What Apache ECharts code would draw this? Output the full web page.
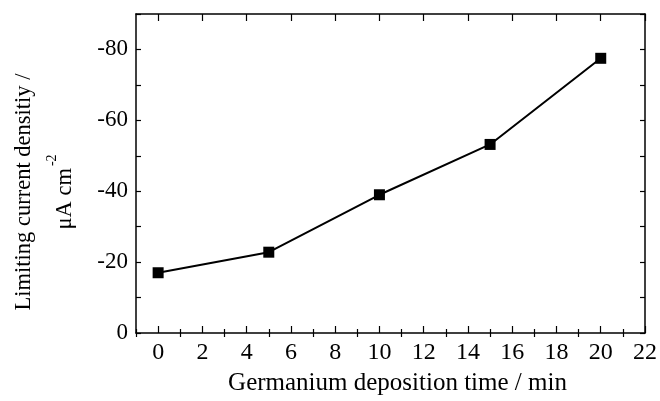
<!DOCTYPE html>
<html><head><meta charset="utf-8">
<script src="https://cdn.jsdelivr.net/npm/echarts@6/dist/echarts.min.js"></script>
<style>html,body{margin:0;padding:0;background:#fff}#c{width:660px;height:401px}</style>
</head><body><div id="c"></div>
<script>
const times = [0, 5, 10, 15, 20];
const density = [-17.0, -22.8, -39.0, -53.2, -77.5];
const xMajor = [0, 2, 4, 6, 8, 10, 12, 14, 16, 18, 20, 22];
const xMinor = [-1, 1, 3, 5, 7, 9, 11, 13, 15, 17, 19, 21];
const yLabels = [0, -20, -40, -60, -80];
const FONT = 'Liberation Serif';

const chart = echarts.init(document.getElementById('c'));
const lineStyle = {color: '#000', width: 1.5};
function xAx(pos, opts) {
  return Object.assign({
    type: 'value', position: pos, min: -1, max: 22, interval: 1,
    axisLine: {show: true, onZero: false, lineStyle},
    splitLine: {show: false},
    axisLabel: {show: false},
    axisTick: {show: true, inside: true, length: 7, lineStyle: {color: '#000', width: 1.2}, customValues: xMajor}
  }, opts);
}
function yAx(pos, opts) {
  return Object.assign({
    type: 'value', position: pos, min: -90, max: 0, interval: 10, inverse: true,
    axisLine: {show: true, onZero: false, lineStyle},
    splitLine: {show: false},
    axisLabel: {show: false},
    axisTick: {show: true, inside: true, length: 5, lineStyle: {color: '#000', width: 1.2}}
  }, opts);
}
chart.setOption({
  animation: false,
  backgroundColor: '#fff',
  grid: {left: 136, right: 12, top: 14, bottom: 68},
  xAxis: [
    xAx('bottom', {
      name: 'Germanium deposition time / min', nameLocation: 'middle', nameGap: 38,
      nameTextStyle: {fontFamily: FONT, fontSize: 25, color: '#000', padding: [0, 0, 0, 14]},
      axisLabel: {show: true, customValues: xMajor, fontFamily: FONT, fontSize: 24, color: '#000', margin: 8}
    }),
    xAx('bottom', {axisLine: {show: false}, axisTick: {show: true, inside: true, length: 4, lineStyle: {color: '#000', width: 1.2}, customValues: xMinor}}),
    xAx('top', {}),
    xAx('top', {axisLine: {show: false}, axisTick: {show: true, inside: true, length: 4, lineStyle: {color: '#000', width: 1.2}, customValues: xMinor}})
  ],
  yAxis: [
    yAx('left', {axisLabel: {show: true, customValues: yLabels, fontFamily: FONT, fontSize: 23, color: '#000', margin: 8}}),
    yAx('right', {})
  ],
  graphic: [{
    type: 'text', x: 45, y: 192, rotation: Math.PI / 2,
    style: {
      text: '{a|Limiting current densitiy /}\n{a|μA cm}{s|-2}',
      align: 'center', verticalAlign: 'middle',
      rich: {
        a: {fontFamily: FONT, fontSize: 22.5, lineHeight: 41, fill: '#000'},
        s: {fontFamily: FONT, fontSize: 14, lineHeight: 41, fill: '#000', verticalAlign: 'top', padding: [0, 0, 0, 2]}
      }
    }
  }],
  series: [{
    type: 'line', xAxisIndex: 0, yAxisIndex: 0,
    data: times.map((t, i) => [t, density[i]]),
    symbol: 'rect', symbolSize: 11,
    lineStyle: {color: '#000', width: 2},
    itemStyle: {color: '#000'}
  }]
});
</script></body></html>
